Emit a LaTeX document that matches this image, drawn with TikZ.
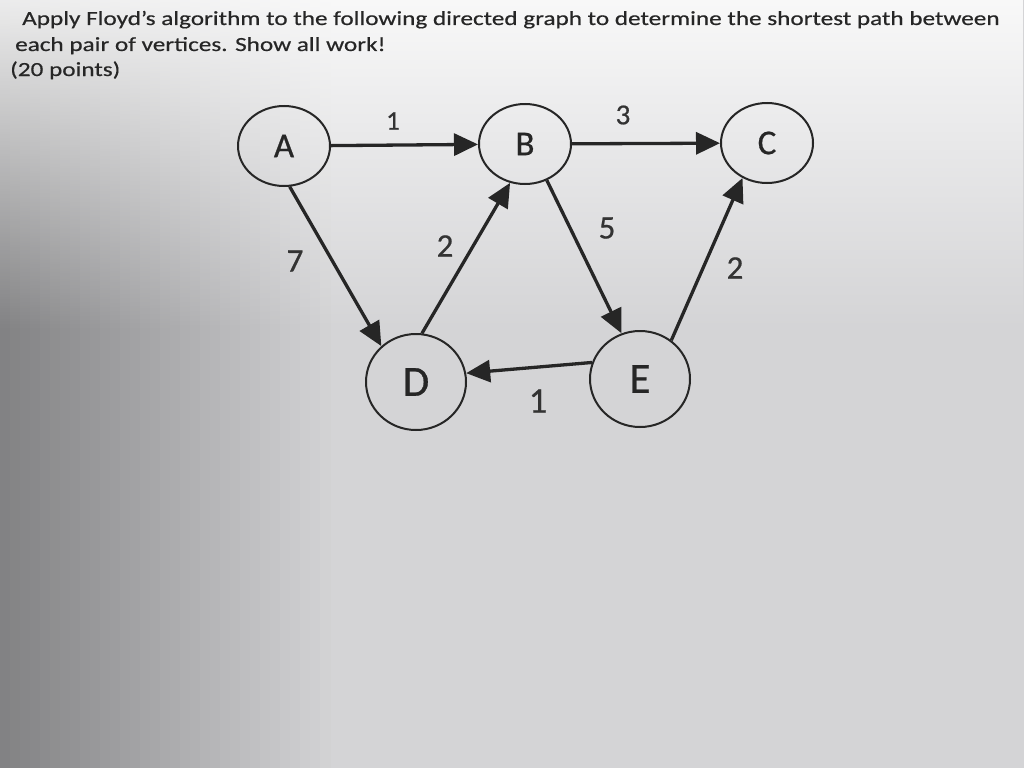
\documentclass[tikz,border=0pt]{standalone}
\usepackage{fontspec}
\setmainfont{Carlito}
\newfontfamily\papertext{Carlito}[FakeStretch=1.26,FakeBold=0.5]
\newfontfamily\graphfont{Carlito}[FakeBold=0.6]
\usetikzlibrary{arrows.meta,shapes.geometric,fadings}
\definecolor{paper}{RGB}{212,212,214}
\definecolor{darkpaper}{RGB}{130,130,132}
\begin{document}
\begin{tikzpicture}[x=1pt,y=-1pt]
    \tikzstyle{vertex}=[ellipse,draw=black!85,line width=2pt,minimum width=92pt,minimum height=80pt,inner sep=0pt,text=black!85,font=\graphfont\fontsize{35}{35}\selectfont]
    \tikzstyle{bigvertex}=[vertex,minimum width=100pt,minimum height=96pt,font=\graphfont\fontsize{43}{43}\selectfont]
    \tikzstyle{edge}=[line width=3.3pt,draw=black!85,-{Triangle[length=24pt,width=22pt]}]
    \tikzstyle{wt}=[text=black!80,font=\graphfont\fontsize{33}{33}\selectfont]
    \tikzstyle{line}=[anchor=base west,inner sep=0pt,text=black!85,font=\papertext\fontsize{20}{20}\selectfont]
    % paper
    \useasboundingbox (0,0) rectangle (1024,768);
    \fill[paper] (0,0) rectangle (1024,768);
    \foreach \i in {0,...,32}{
        \pgfmathsetmacro\pct{100-\i*100/33}
        \fill[darkpaper!\pct!paper] (\i*10,0) rectangle (\i*10+10.5,768);
    }
    \fill[white,path fading=south,opacity=0.85] (0,0) rectangle (1024,330);
    \node[line] (t1) at (22,25){Apply Floyd’s algorithm to the following directed graph to determine the shortest path between};
    \node[line] (t2) at (15,51){each pair of vertices. Show all work!};
    \node[line] (t3) at (10,76){(20 points)};
    \node[vertex] (a) at (284,146){A};
    \node[vertex] (b) at (525,144){B};
    \node[vertex] (c) at (767,143){C};
    \node[bigvertex] (d) at (416,382){D};
    \node[bigvertex] (e) at (640,379){E};
    \draw[edge] (a) -- (b);
    \draw[edge] (b) -- (c);
    \draw[edge] (a.278) -- (d.134);
    \draw[edge] (d.83) -- (b.249);
    \draw[edge] (b.301) -- (e.112);
    \draw[edge] (e.51) -- (c.235);
    \draw[edge] (e.161) -- (d.10);
    \node[wt,font=\graphfont\fontsize{27}{27}\selectfont] (w1) at (393,121){1};
    \node[wt,font=\graphfont\fontsize{29}{29}\selectfont] (w2) at (623,115){3};
    \node[wt] (w3) at (295,261){7};
    \node[wt] (w4) at (445,246){2};
    \node[wt] (w5) at (607,228){5};
    \node[wt] (w6) at (735,268){2};
    \node[wt,font=\graphfont\fontsize{36}{36}\selectfont] (w7) at (538,401){1};
    %\draw (t1) (t2) (t3) (a) (b) (c) (d) (e);
\end{tikzpicture}
\end{document}
